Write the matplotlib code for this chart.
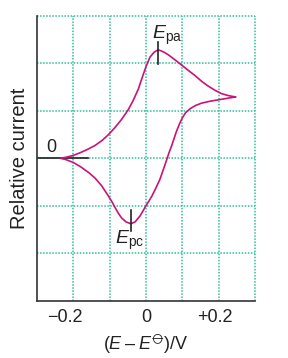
import matplotlib
matplotlib.use("Agg")
import matplotlib.pyplot as plt
from matplotlib.transforms import ScaledTranslation

plt.rcParams['font.family'] = ['Liberation Sans', 'DejaVu Sans']
plt.rcParams['mathtext.fontset'] = 'custom'
plt.rcParams['mathtext.rm'] = 'Liberation Sans'
plt.rcParams['mathtext.it'] = 'Liberation Sans:italic'

# Forward (anodic) sweep
forward_x = [-0.236, -0.220, -0.200, -0.180, -0.160, -0.140, -0.120, -0.103, -0.085,
             -0.068, -0.049, -0.035, -0.021, -0.010, 0.000, 0.011, 0.022, 0.028,
             0.034, 0.042, 0.050, 0.061, 0.080, 0.100, 0.118, 0.135, 0.153, 0.171,
             0.190, 0.208, 0.226, 0.246]
forward_y = [0.00, 0.02, 0.06, 0.12, 0.19, 0.27, 0.38, 0.50, 0.65,
             0.81, 1.02, 1.22, 1.46, 1.71, 1.93, 2.13, 2.23, 2.26,
             2.28, 2.26, 2.23, 2.18, 2.07, 1.95, 1.84, 1.74, 1.62, 1.52,
             1.43, 1.36, 1.32, 1.29]
# Reverse (cathodic) sweep
reverse_x = [0.246, 0.222, 0.199, 0.176, 0.153, 0.136, 0.121, 0.109, 0.100, 0.092,
             0.084, 0.077, 0.070, 0.063, 0.057, 0.048, 0.038, 0.027, 0.016,
             0.008, 0.000, -0.016, -0.030, -0.042, -0.055, -0.067, -0.076,
             -0.085, -0.095, -0.104, -0.122, -0.140, -0.158, -0.180, -0.200,
             -0.220, -0.236]
reverse_y = [1.29, 1.26, 1.23, 1.20, 1.16, 1.11, 1.04, 0.96, 0.85, 0.72,
             0.57, 0.41, 0.25, 0.11, -0.03, -0.23, -0.45, -0.63, -0.80,
             -0.90, -1.00, -1.21, -1.34, -1.38, -1.34, -1.26, -1.16,
             -1.04, -0.90, -0.79, -0.58, -0.42, -0.30, -0.18, -0.09,
             -0.03, 0.00]

xticks = [-0.2, 0.0, 0.2]
xticklabels = ["\u22120.2", "0", "+0.2"]
grid_x = [-0.2, -0.1, 0.0, 0.1, 0.2, 0.3]
grid_y = [-2, -1, 0, 1, 2, 3]
epa_x = 0.034
epc_x = -0.042

curve_color = '#c8137a'
grid_color = '#2fbf9a'
ink = '#222222'

fig = plt.figure(figsize=(2.88, 3.58), dpi=100)
ax = fig.add_axes([0.1285, 0.160, 0.757, 0.796])
ax.set_xlim(-0.3, 0.3)
ax.set_ylim(-3, 3)

for gx in grid_x:
    ax.axvline(gx, color=grid_color, lw=1.1, ls=(0, (1, 1)), zorder=1, clip_on=False)
for gy in grid_y:
    ax.axhline(gy, color=grid_color, lw=1.1, ls=(0, (1, 1)), zorder=1, clip_on=False)

ax.plot([-0.3, -0.16], [0, 0], color=ink, lw=1.2, zorder=2)
ax.plot(forward_x, forward_y, color=curve_color, lw=1.2, zorder=3,
        solid_joinstyle='round')
ax.plot(reverse_x, reverse_y, color=curve_color, lw=1.2, zorder=3,
        solid_joinstyle='round')

# peak markers
ax.plot([epa_x, epa_x], [1.99, 2.44], color=ink, lw=1.2, zorder=4)
ax.plot([epc_x, epc_x], [-1.08, -1.54], color=ink, lw=1.2, zorder=4)
ax.text(0.016, 2.50, r"$E_{\mathrm{pa}}$", fontsize=14, color=ink, ha='left', va='baseline')
ax.text(-0.084, -1.80, r"$E_{\mathrm{pc}}$", fontsize=14, color=ink, ha='left', va='baseline')
ax.text(-0.262, 0.05, "0", fontsize=13, color=ink, ha='center', va='bottom')

for s in ['top', 'right']:
    ax.spines[s].set_visible(False)
for s in ['left', 'bottom']:
    ax.spines[s].set_color('#333333')
    ax.spines[s].set_linewidth(1.2)

ax.set_xticks(xticks)
ax.set_xticklabels(xticklabels, fontsize=13, color=ink)
ax.set_yticks([])
ax.tick_params(axis='x', length=0, pad=6)
labels = ax.get_xticklabels()
offsets = [-8, 0, -4]
for lab, dx in zip(labels, offsets):
    lab.set_transform(lab.get_transform() + ScaledTranslation(dx / 100, 0, fig.dpi_scale_trans))
ax.set_xlabel("($E$\u2009\u2013\u2009$E^{\u29B5}$)/V", fontsize=13, color=ink, labelpad=5)
ax.set_ylabel("Relative current", fontsize=14.5, color=ink, labelpad=6)

fig.savefig("out.png", dpi=100)
